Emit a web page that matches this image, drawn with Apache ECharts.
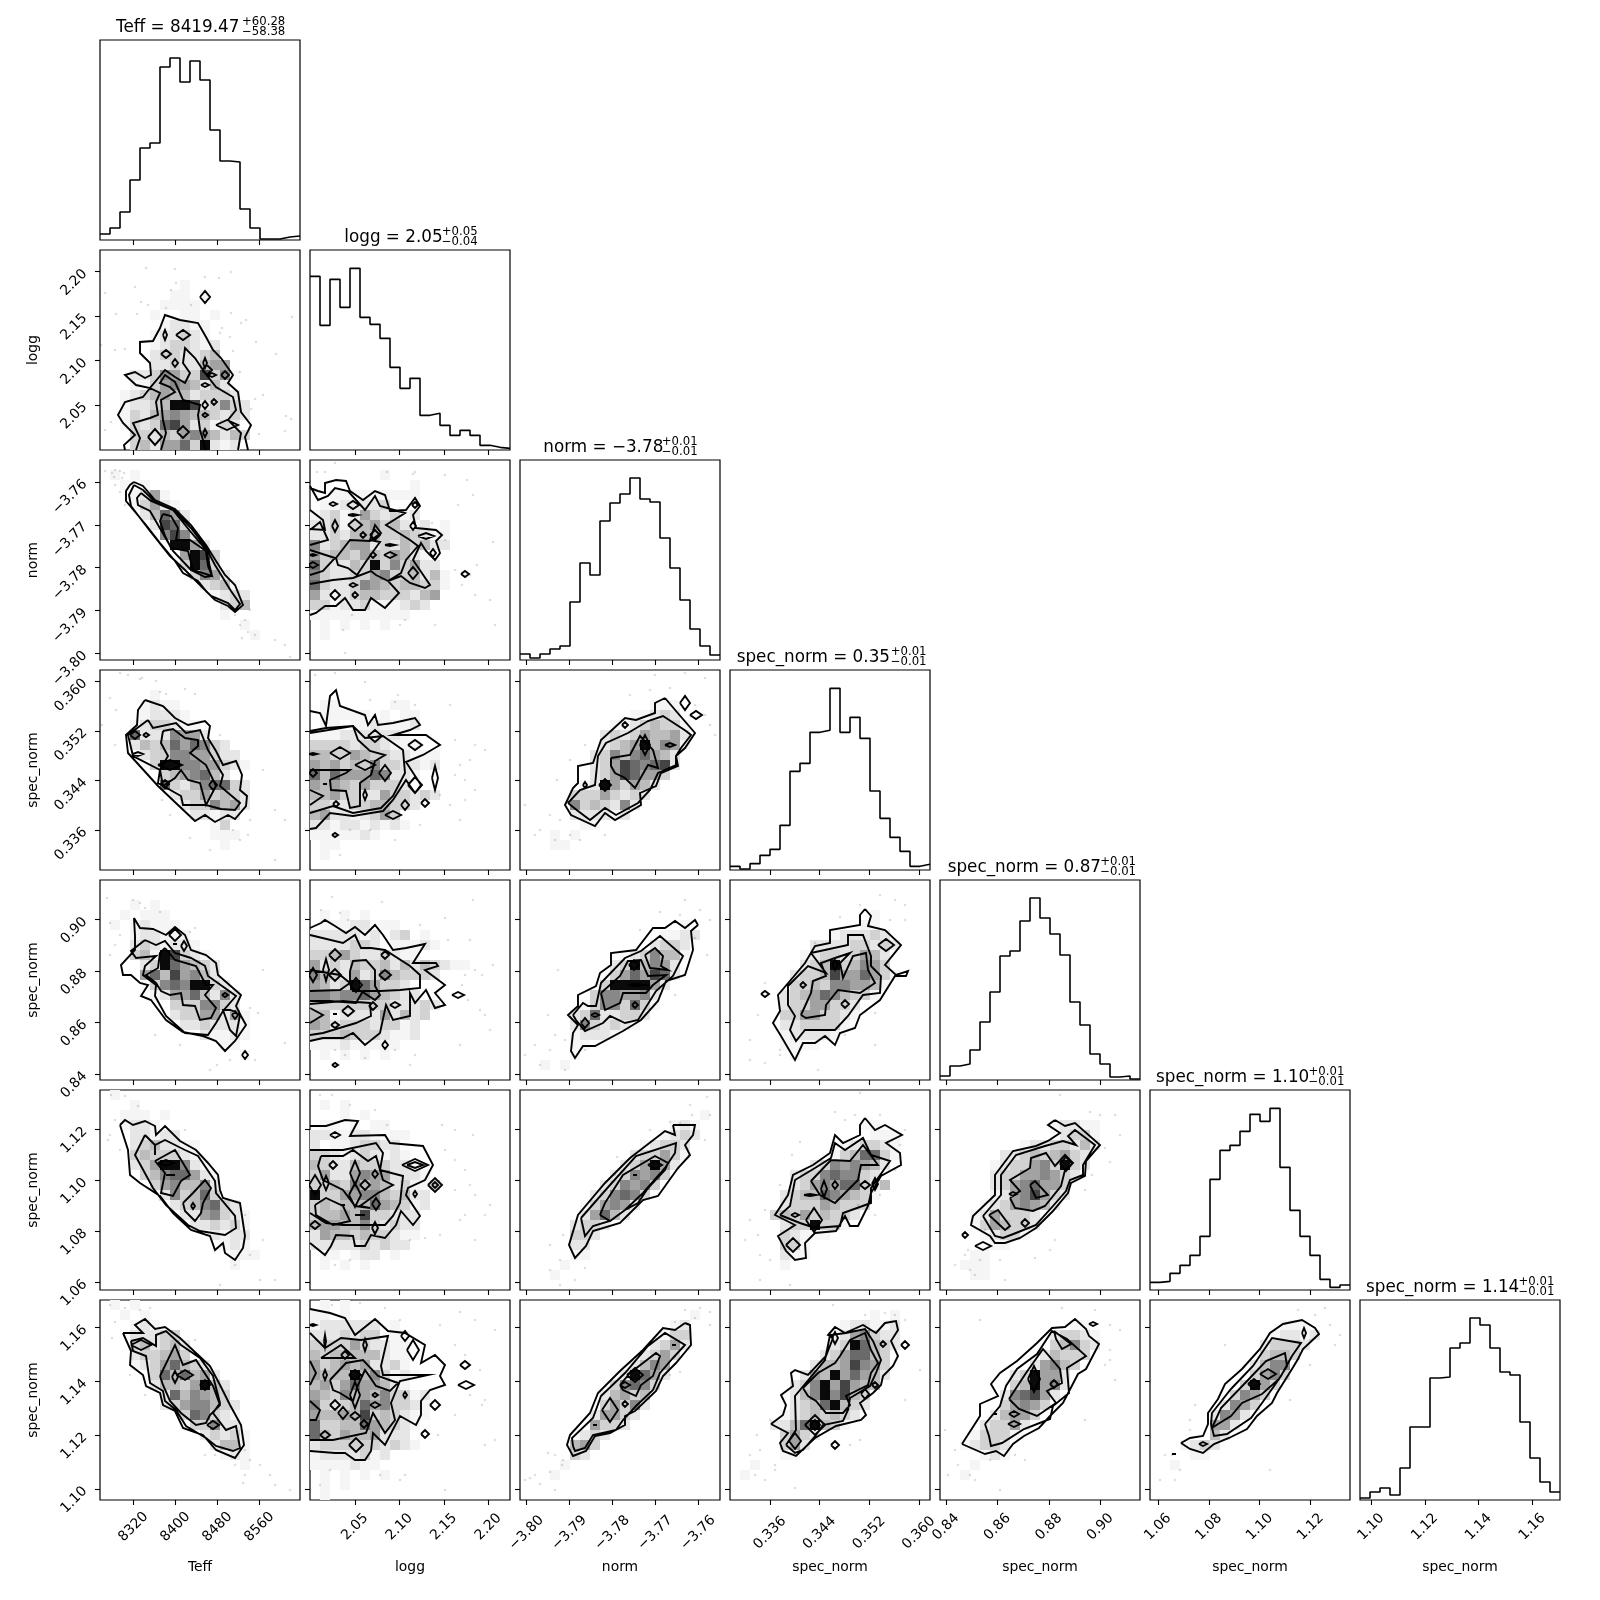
<!DOCTYPE html>
<html><head><meta charset="utf-8"><style>html,body{margin:0;background:#fff}#c{width:1600px;height:1600px}</style>
<script src="https://cdn.jsdelivr.net/npm/echarts@6/dist/echarts.min.js"></script></head><body><div id="c"></div>
<script>
// ---- axes ----
const axisNames=['Teff','logg','norm','spec_norm','spec_norm','spec_norm','spec_norm'];
const axisLow=[8256.4,1.9994,-3.8015,0.32955,0.83767,1.0569,1.0959];
const axisHigh=[8637.4,2.2244,-3.7549,0.36181,0.91542,1.1355,1.1703];
const ticks0=[8320,8400,8480,8560],ticks1=[2.05,2.10,2.15,2.20],ticks2=[-3.80,-3.79,-3.78,-3.77,-3.76],ticks3=[0.336,0.344,0.352,0.360],ticks4=[0.84,0.86,0.88,0.90],ticks5=[1.06,1.08,1.10,1.12],ticks6=[1.10,1.12,1.14,1.16];
const tickDecimals=[0,2,2,3,2,2,2];
// ---- titles ----
const titleMain=['Teff = 8419.47','logg = 2.05','norm = \u22123.78','spec_norm = 0.35','spec_norm = 0.87','spec_norm = 1.10','spec_norm = 1.14'];
const titleUp=['+60.28','+0.05','+0.01','+0.01','+0.01','+0.01','+0.01'];
const titleDown=['\u221258.38','\u22120.04','\u22120.01','\u22120.01','\u22120.01','\u22120.01','\u22120.01'];
// ---- 1D histograms (20 bins) ----
const hist0=[18,36,84,180,276,291,519,546,474,537,480,330,237,234,93,36,3,3,9,12];
const hist1=[521,374,512,428,545,398,377,335,248,185,215,104,110,74,44,59,44,14,8,5];
const hist2=[18,6,18,33,42,174,291,255,417,471,498,546,483,474,366,276,180,93,42,15];
const hist3=[11,3,19,44,62,134,296,320,413,419,545,413,458,395,237,155,98,56,11,17];
const hist4=[12,42,48,90,174,264,372,387,477,546,486,438,375,234,165,78,48,9,12,3];
const hist5=[23,26,50,74,104,161,332,419,434,476,527,506,545,368,239,161,104,32,8,15];
const hist6=[6,24,36,15,96,219,219,366,369,456,471,546,525,456,384,375,234,126,54,24];
// ---- 2D panels: heat_ROW_COL = shade per bin (rows from top), line_ = contour vertices in tenths of a bin,
// spot_ = small closed contours [u,v,du,dv], dots_ = faint samples in tenths of a bin ----
const heat_1_0=['','','','........1','.......11.1','......1111','.....1..11.1','......12211','.....122321','.....1233212','.....2332234','.....22322455','...22365338361','...1135654242','..123454423332','..1223499823632','..1324565443232','..132378523132','...332435654243','...34255739212'];
const line_1_0=[[25,200,24,195,35,185,23,173,18,165,25,152,43,147,50,138,36,135,25,125,35,122,45,128,51,125,50,113,40,103,40,92,53,91,60,78,65,65,80,70,98,73,106,87,113,100,121,108,133,125,128,133,138,142,141,162,151,175,145,187,148,200],
[36,200,40,188,33,173,50,168,58,165,56,152,60,143,50,138,65,120,75,127,85,133,90,123,83,113,85,98,95,108,105,123,116,137,133,147,136,160,128,170,141,183,138,200],
[61,200,66,183,63,170,61,150,75,142,70,137,60,133,65,125,75,132,83,150,100,155,98,165,100,180,106,200]];
const spot_1_0=[105,47,5,6,65,85,2,5,83,85,7,5,66,104,5,4,75,113,3,4,105,113,2,5,107,120,5,5,112,125,4,2,125,125,4,4,105,135,4,2,114,152,3,3,105,155,3,4,105,165,3,2,105,183,2,4,55,187,7,8,83,182,6,6,127,175,11,5];
const dots_1_0=[46,18,75,19,131,22,105,27,119,28,76,33,71,40,35,37,5,43,41,52,48,55,91,55,66,58,16,64,37,64,131,63,192,67,146,70,141,73,122,78,120,83,130,87,156,92,1,95,25,99,15,100,133,101,176,104,140,122,163,145,155,149,151,159,186,166,191,169,11,172,5,180,185,181,159,184];

const heat_2_0=['','.1.1','..1.1','...1251','...13521','....24752','.....2873','......6862','.......9952','........5983','........3973','.........3652','..........2341','...........1232','............234','............1','..............1','...............1'];
const line_2_0=[[34,22,43,26,55,40,75,49,91,65,106,85,116,101,125,115,135,125,143,145,135,152,128,146,115,140,106,131,98,121,83,113,75,101,60,83,46,65,26,41,26,31,30,25],
[34,25,43,30,55,42,75,51,91,68,106,88,115,105,123,118,131,131,140,144,135,150,128,143,111,136,100,125,85,110,70,96,50,71,31,46,29,35],
[41,33,51,41,73,50,90,71,106,90,112,116,105,117,91,110,73,91,50,51,38,45,37,38],
[63,54,71,56,78,68,76,80,90,80,106,91,108,106,112,116,93,110,88,91,71,88,65,76,60,61]];
const spot_2_0=[];
const dots_2_0=[5,11,12,13,15,10,20,11,24,13,14,17,22,18,15,25,20,32,25,45,135,155,145,160,150,150,140,165,148,172,155,175,142,178,175,180,185,185,190,197];

const heat_2_1=['','.......1','..........1','..111111111','.1122223','12312532312','223134534212.1','22324443343211','62345523243422','534435435421','7322439363522','63223356334241','73223654344331','5212344333245','331223111232','1111111111','.1.1.1.1','.1'];
const line_2_1=[[0,28,8,31,15,33,15,23,26,20,36,21,40,31,53,40,65,31,75,35,80,51,96,50,105,38,110,46,103,55,106,68,126,70,132,75,126,81,130,93,125,100,116,91,111,83,103,100,120,125,115,128,100,123,91,116,78,121,89,133,75,148,61,138,55,150,43,150,35,138,26,146,15,146,6,153,0,155],
[0,124,23,120,43,118,61,111,66,115,78,121,91,113,96,100,108,86,100,80,76,65,95,53,70,46,65,36,55,50,46,40,38,31,25,28,18,36,8,40,0,26],
[0,50,13,60,15,70,0,69],[0,115,13,111,25,98,0,90],[26,98,40,80,60,81,71,73,65,65,60,80,70,82,57,100,47,115,38,108,28,105],[0,70,10,62,18,80,0,85]];
const spot_2_1=[23,44,4,2,43,45,6,4,43,55,5,1,45,65,7,6,25,66,3,6,53,75,3,3,65,75,5,5,80,85,5,1,63,95,3,3,80,95,6,3,105,45,3,3,103,66,3,4,116,76,8,3,123,93,3,4,103,113,5,6,43,125,4,2,25,135,5,5,45,135,3,3,155,114,4,3,3,95,3,1,3,105,5,3];
const dots_2_1=[25,3,7,12,15,12,77,12,105,12,103,14,135,15,157,20,163,35,148,45,122,63,135,80,183,82,167,105,145,110,160,115,152,125,165,135,180,140,185,165,90,165,125,165,95,160,42,155,33,170,35,193];

const heat_3_0=['','','.....1','....1211','....12221','...1233211','...72226552','...2434757632','....2336655322','.....3996655321','......3456742','......732467732','.......23353432','........2336452','.........22122','...........13','...........111','............1'];
const line_3_0=[[45,30,63,36,75,48,88,55,105,51,110,56,108,68,116,81,123,95,136,91,142,105,140,120,147,126,146,136,135,149,128,145,115,152,105,145,95,151,78,135,58,116,28,83,26,65,37,55,38,40],
[48,50,53,58,76,53,86,63,100,60,108,80,123,105,120,116,140,133,135,140,121,139,106,135,83,135,81,126,58,113,60,100,33,86,28,65],
[63,61,73,59,85,68,98,70,98,76,90,83,106,95,116,116,106,135,100,113,88,110,81,100,75,108,63,116,60,100,68,86,61,73]];
const spot_3_0=[35,65,5,4,46,65,3,2,65,114,4,4,113,115,4,5,70,95,12,5,38,84,5,2];
const dots_3_0=[20,3,28,5,42,8,56,11,60,22,66,24,85,19,95,24,10,28,16,40,2,55,15,75,40,9,120,65,163,100,175,140,150,150,133,160,140,170,148,165,110,180,90,168,70,145,62,130,175,190,185,150];

const heat_3_1=['','','','.11.....11','.11111.1.11','.11.1121112','1112222221','33332332111','4433543322111','5453436332212','74755576221','5454353332','4453322533232','33223344332','452212353','2212212121','1111121','.11','.1'];
const line_3_1=[[0,41,10,43,16,56,20,26,26,20,30,36,55,45,58,55,65,45,68,55,83,53,105,48,110,55,100,60,83,65,116,65,130,75,113,85,96,92,111,115,105,123,96,110,83,130,73,141,43,146,20,143,6,158,0,159],
[0,61,16,58,43,56,55,68,73,66,93,80,95,103,83,126,71,138,43,143,23,136,0,143],
[0,63,43,56,48,70,60,81,75,85,65,91,61,105,50,113,50,136,40,138,36,121,21,120,20,110,36,103,40,100,0,100],
[0,120,13,126,0,135]];
const spot_3_1=[30,83,10,6,55,95,10,5,3,84,4,1,3,103,4,4,65,66,7,6,75,103,6,8,105,75,7,5,105,115,7,8,55,125,2,5,26,134,3,3,15,114,2,2,125,108,3,12,115,133,4,4,95,135,4,5,83,145,8,4,25,165,3,2];
const dots_3_1=[5,5,25,3,55,12,88,25,60,30,85,32,105,35,140,35,145,70,165,75,160,90,150,95,175,80,145,105,155,110,165,120,155,130,140,135,130,125,150,150,110,155,85,170,60,160,40,160,30,185,15,140];

const heat_4_0=['','','...1.1','..1.111','.1.12111','...122111','...2321221','...34198321','....23975432','....57485642','.....36769932','.....125574262','.......3336632','.......23355251','........2232221','..........21121','............11','..............1'];
const line_4_0=[[34,38,40,48,53,49,66,55,75,47,85,55,91,70,106,75,116,83,118,95,141,115,136,126,141,136,146,145,135,161,125,171,116,161,103,156,83,152,66,140,51,120,41,116,48,105,40,103,31,95,23,95,21,85,35,70,35,56],
[45,60,56,65,65,61,75,73,91,78,105,86,108,96,136,116,123,131,116,143,108,155,85,153,66,136,55,116,56,105,43,95,45,86,56,76,36,78,31,71],
[65,68,75,80,96,86,106,105,113,105,105,115,116,128,111,138,100,140,95,126,83,125,81,113,70,115,61,111,56,103,46,95,58,88,60,73],
[131,130,140,135,136,156,130,150,123,130]];
const spot_4_0=[75,55,6,6,75,64,2,2,84,66,3,5,125,115,3,2,135,135,3,4,145,175,3,4];
const dots_4_0=[7,18,33,20,40,23,45,28,60,32,10,43,15,65,20,55,10,75,95,48,90,52,163,90,150,128,158,133,155,180,130,180,117,185,110,190,60,125,55,155,80,165,185,163];

const heat_4_1=['','','','.1.1.1','.11122.11','2222212.23.1','2222332.11121','33453223211','5232433424243211','6432523643332','5423975332','66566754322','3333333322232','441222252423','54233323312','33343332112','111211111','.1.1.1.1'];
const line_4_1=[[0,48,11,43,15,40,25,46,36,53,45,47,55,55,65,45,73,55,83,70,96,68,115,64,103,83,126,83,128,86,115,90,135,105,125,113,135,125,125,128,116,110,105,123,100,113,100,136,83,140,76,125,70,153,55,165,43,153,33,158,13,158,0,161],
[0,55,33,63,45,55,51,68,61,68,75,70,100,86,110,95,110,108,90,110,70,111,53,111,46,123,20,121,0,121],
[0,155,13,153,46,143,61,136,60,123,33,121,0,124],
[40,91,43,81,56,80,65,90,65,106,70,115,65,120,51,111,43,111,40,103],
[0,111,30,110,40,103,30,95,0,90],[0,128,13,135,0,143]];
const spot_4_1=[25,75,6,6,25,95,6,6,16,90,3,11,75,75,4,4,75,95,6,5,85,125,5,3,25,134,2,2,25,145,4,3,75,165,3,4,25,185,3,2,148,115,6,3,38,131,6,5,63,126,4,4,46,105,6,7,3,95,4,7];
const dots_4_1=[22,17,11,30,30,33,38,40,72,22,163,20,110,45,135,38,138,60,160,60,165,90,155,95,152,105,158,120,170,130,183,85,172,95,175,135,180,150,150,165,105,175,85,170,55,178,35,175,100,185,25,170];

const heat_5_0=['.1','...1','..111.1','..1221','...22122','...2342211','...3433321','...23599621','....34677521','.....3564462','......263473','.......2346732','........2256321','.........223231','...........2122','............121','.............111','.............1'];
const line_5_0=[[20,35,25,30,33,35,45,31,55,36,56,45,65,36,80,51,96,60,108,73,118,85,120,100,123,108,140,113,145,146,143,158,135,170,125,163,123,153,115,160,110,146,91,140,73,123,60,106,40,93,30,85,28,60],
[45,45,55,55,65,50,85,60,98,66,115,91,116,103,135,126,136,138,125,145,100,141,88,135,66,115,53,98,35,65],
[55,71,75,60,83,73,90,85,81,91,73,106,61,103,65,83],
[83,113,93,103,105,90,111,98,103,113,101,123,95,131,85,121],
[55,55,55,65],[66,85,75,85]];
const spot_5_0=[93,116,2,3,66,73,8,3];
const dots_5_0=[11,5,25,6,38,16,15,30,10,45,8,50,85,40,20,60,60,110,145,125,163,150,150,165,135,175,120,195,160,190,175,190];

const heat_5_1=['','.1.1','...1.1','.11.1.11','2211221.11','2.1123322','3321232121','4322433322','352256552221','3343645423113','933556643422','343444754312','34454833222','45544632322','25443433211','2222232322','.11.122.1','.1.1.1'];
const line_5_1=[[0,36,16,36,35,30,48,31,40,46,75,45,80,53,113,56,123,75,115,90,98,98,96,105,110,126,103,135,91,121,86,135,75,148,61,145,55,156,45,156,43,146,26,145,21,156,15,165,0,153],
[0,60,33,60,66,53,73,63,70,80,93,86,90,113,83,126,75,135,33,135,16,133,0,123],
[11,66,33,66,43,60,58,71,66,66,73,90,83,95,68,103,50,116,60,118,45,116,33,100,13,90,8,76],
[5,115,16,108,33,116,40,131,23,135,6,125],[45,125,55,125]];
const spot_5_1=[105,75,13,6,105,75,8,3,125,95,7,7,125,95,3,3,5,95,6,10,16,93,3,7,45,83,5,12,45,105,6,12,55,95,5,5,66,114,4,6,23,75,4,4,65,84,3,4,105,104,2,3,25,45,5,3,33,115,2,2,54,135,2,2,65,138,3,6,5,135,5,4];
const dots_5_1=[10,5,22,5,40,15,65,20,77,35,132,35,145,40,163,45,135,60,145,70,155,80,160,95,145,100,165,105,155,125,175,125,150,130,100,150,115,148,165,150,180,115,130,145,25,175,40,170];

const heat_6_0=['.1.1','..1.1','...121','...22233','...342342','...233453','...12357432','.....3747452','.....24435942','......2746543','......23566432','........376321','.........33622','..........23231','...........2441','............121','..............1'];
const line_6_0=[[23,33,43,33,35,25,45,19,55,29,65,27,80,38,96,53,110,66,120,85,130,105,141,125,144,145,135,158,116,150,103,135,83,128,75,111,63,105,60,93,46,86,43,75,30,65,31,51],
[31,41,43,38,56,46,56,35,66,31,81,45,100,58,113,76,120,103,113,113,126,130,136,126,140,148,133,151,116,146,106,138,86,126,76,110,65,101,63,91,50,83,46,56,33,51],
[60,76,75,45,83,65,96,60,113,86,120,105,110,115,106,123,96,125,81,113,70,101,63,85]];
const spot_6_0=[41,45,10,5,75,77,3,6,85,75,8,5,105,85,5,5,113,125,6,4];
const dots_6_0=[10,5,25,8,40,10,15,22,12,38,50,8,95,40,30,75,45,95,105,155,115,155,135,165,145,150,150,160,160,165,145,175,143,183,170,175,175,185,190,190];

const heat_6_1=['.1.1','11.1','1222222.1','2223233.11','3333532211','4344444211','5345452231','54449463121','4535755421','543645463312','632347563321','544548343211','73344754321','7435445222','23333332321','12222312','1111211','.1.1.1.1','.1.1','.1'];
const line_6_1=[[0,9,20,13,35,18,45,35,65,19,78,31,95,33,115,45,111,63,125,55,135,65,130,76,135,85,120,90,111,101,111,115,106,125,90,116,75,145,63,133,61,151,55,160,45,160,35,153,25,153,0,151],
[0,33,15,48,31,38,51,40,78,36,71,66,73,75,118,75,90,81,81,103,85,120,75,133,63,113,56,133,23,140,0,140],
[0,61,6,73,0,85],[0,101,10,110,6,120,0,120],
[20,80,36,63,53,60,68,76,88,83,80,91,66,86,55,70,48,85,43,101,30,93,23,90],
[11,58,31,45,45,58,25,58]];
const spot_6_1=[25,105,5,5,35,55,4,4,33,113,5,6,45,116,5,4,55,45,2,6,65,95,3,2,65,105,5,3,54,124,4,4,95,95,2,3,95,36,4,5,103,50,6,10,125,105,5,5,155,65,5,4,156,85,8,4,115,134,4,4,15,135,5,4,46,145,7,7,15,41,1,6,45,75,6,5,45,95,5,13,15,75,2,5,3,25,3,1];
const dots_6_1=[22,5,50,3,75,8,90,20,130,25,150,12,165,20,185,30,145,45,170,70,155,55,160,95,175,100,145,115,172,105,128,135,185,140,175,145,90,180,95,175,70,175,20,170,10,185,135,190];

const heat_3_2=['','','','.............111','...........11232','.........11234331','........232354452','........234594651','.......236467542','.......235876782','.......23587553','......12953542','.....33353232','.....6343262','.....222212','......11','...1.1','...11'];
const line_3_2=[[145,28,156,41,175,63,165,78,156,86,158,96,141,103,136,116,120,123,121,135,95,150,85,143,75,156,51,145,45,135,53,118,58,113,58,96,73,93,81,70,105,48,116,50,135,43,135,33],
[48,133,60,120,75,115,78,86,86,73,108,63,128,51,143,46,166,61,171,65,161,78,156,86,156,95,138,103,130,120,118,133,96,145,85,138,70,150,58,141],
[91,88,110,85,120,66,133,80,138,98,128,95,115,118,105,108,95,103,91,96]];
const spot_3_2=[165,33,5,7,176,45,6,4,105,55,3,3,65,115,2,3,85,115,6,6,125,75,5,10,150,75,5,2];
const dots_3_2=[135,5,165,3,185,8,150,18,130,20,110,25,175,35,185,45,195,65,65,75,50,90,37,110,40,150,20,160,35,170,15,165,30,145,50,165,60,170,85,165,5,135,190,55];

const heat_4_2=['','','','','................1','..............1122','.............2332','...........236441','.........2394652','.........3575872','........3999952','.......3665562','......13663731','.....23722332','.....2632321','.....12221','.....11','.....1','..1.1'];
const line_4_2=[[178,45,171,51,173,70,165,95,146,101,138,121,121,140,103,151,75,166,63,166,55,178,51,171,53,153,58,145,48,135,58,126,58,115,76,106,80,93,91,85,91,73,116,70,133,48,145,48,155,41,165,48,175,40],
[53,135,63,123,68,126,76,126,81,103,105,78,121,71,140,56,163,76,153,96,136,111,118,140,105,143,90,136,83,143,65,151,56,140],
[81,113,100,96,108,81,121,80,128,96,146,95,133,105,126,113,103,113,100,123,85,130],
[125,75,135,68,143,76,141,86,148,90,130,88]];
const spot_4_2=[65,143,4,5,75,135,4,2,115,125,3,3,116,105,8,1,114,85,5,5];
const dots_4_2=[165,20,180,30,190,40,140,32,160,35,175,58,187,75,120,50,38,90,28,135,155,115,140,115,35,155,45,160,30,170,20,185,45,190,15,165,5,175,65,170];

const heat_4_3=['','','','..............1','.............11','..........122232','........222233232','.......123323542','.......234934653','......23348557531','......3343665541','.....2345764331','.....23355332','.....33553321','.....2233331','.....122221','.....1111','......1'];
const line_4_3=[[135,29,141,36,138,46,155,50,171,65,155,85,166,95,178,91,176,96,165,96,150,120,130,135,125,148,110,153,105,165,95,156,85,163,73,163,65,180,51,156,43,143,50,131,48,115,65,95,75,83,85,66,100,63,100,50,130,45,130,35],
[81,73,118,65,118,55,133,55,138,68,141,76,141,86,151,96,150,113,133,115,118,136,105,150,90,150,75,150,66,161,60,150,65,136,58,125,58,106,78,86,96,93],
[71,135,81,113,83,101,96,96,91,83,105,78,120,73,110,83,113,98,123,76,136,73,138,90,145,103,130,113,108,110,96,125,95,135,76,138]];
const spot_4_3=[156,65,8,6,35,114,4,3,73,105,3,3,115,124,4,4,105,85,3,5];
const dots_4_3=[150,15,165,20,175,25,130,25,160,40,175,40,110,37,85,63,135,132,145,133,35,103,28,135,20,160,50,175,35,183,20,180,145,165,115,155,88,190,50,170];

const heat_5_2=['','','..................1','...............121','..............1232','............12332','...........233531','..........235952','.........236563','........236563','.......236763','......135652','......25742','.....2332','.....332','.....22','.....11','....1','...1'];
const line_5_2=[[153,35,175,35,173,45,165,55,170,65,158,78,138,106,123,110,108,125,100,133,73,141,66,156,55,168,49,155,58,125,85,93,110,68,145,41,155,45],
[61,128,90,95,116,66,156,53,155,63,145,78,123,103,105,120,90,131,73,136,65,146],
[80,125,85,113,103,85,135,66,148,73,145,80,128,98,118,113,105,120,90,131]];
const spot_5_2=[135,75,7,4,115,85,2,2];
const dots_5_2=[187,7,170,15,172,25,190,25,150,32,160,33,185,50,130,40,97,67,95,85,43,145,40,170,30,155,30,180,55,190,40,195,65,178];

const heat_5_3=['','','','.............11','..............111','...........123321','..........1347731','........23656542','......233676632','......2356577324','.....2344765431','.....233354333','....343534332','.....2339331','.....32111','.....331','.....211','.....1'];
const line_5_3=[[135,28,145,40,155,35,172,45,156,53,170,63,171,75,151,86,141,103,138,116,128,136,120,136,115,126,106,141,85,143,75,153,76,168,65,170,56,161,48,146,65,135,45,125,58,105,63,85,83,75,100,63,105,45,113,53,130,45,130,35],
[50,125,60,116,65,90,85,78,101,68,105,53,115,60,133,48,141,65,160,71,141,98,141,113,113,123,110,136,85,138,70,133],
[81,91,101,70,120,71,133,55,148,75,131,75,128,90,113,105,105,113,90,105]];
const spot_5_3=[105,95,3,4,135,95,5,4,145,94,3,6,94,99,3,8,80,105,6,1,65,125,4,2,84,130,8,12,63,155,7,7];
const dots_5_3=[130,3,105,22,115,30,125,25,150,25,175,40,170,55,165,80,150,105,140,105,70,52,62,65,50,95,35,120,20,130,28,145,15,150,145,125,128,115,30,165,40,170,30,190,60,195];

const heat_6_2=['','.................1','...............12','..............133','.............2352','............2353','...........2465','..........29752','.........36763','........24534','........35362','.......25532','.......5332','......232','.....453','.....32','....1','...1'];
const line_6_2=[[165,23,170,25,171,45,156,63,143,76,136,91,115,111,105,116,105,125,90,133,75,136,66,151,53,156,47,145,50,135,70,113,78,93,100,71,123,50,143,28,155,30],
[53,146,52,138,73,118,81,96,105,73,128,46,145,33,165,45,153,58,140,73,133,90,116,106,103,120,96,130,73,135,65,148,55,151],
[100,85,110,73,123,63,136,53,140,56,133,76,121,85,116,96,103,90]];
const spot_6_2=[115,75,8,7,105,85,5,3,90,110,8,12,105,104,3,3,75,125,2,2,154,45,2,2];
const dots_6_2=[165,10,180,8,190,12,175,18,190,25,155,22,140,32,150,75,160,72,145,75,35,155,28,153,43,160,15,175,10,178,42,165,30,172,20,184,5,180,35,190];

const heat_6_3=['','..............1.1','...........122112','..........1256322','..........2397432','.........2357743','........24458653','.......254957542','......236958544','......24696843','......23479432','.....12343432','....22479431','.....3532','.....352','.....11','..1','.1'];
const line_6_3=[[41,124,53,115,56,105,51,95,63,86,61,73,65,70,78,75,96,56,103,38,98,35,105,27,115,33,133,25,146,33,155,23,166,21,168,30,161,41,168,56,163,66,153,76,151,85,143,93,130,103,136,115,131,120,106,126,85,138,66,156,53,151,50,143,58,133],
[56,145,66,130,65,96,95,60,100,35,116,33,135,29,143,41,151,60,146,73,140,86,120,98,118,110,113,121,93,125,86,135,73,150,65,153],
[73,88,88,73,105,63,110,56,120,40,135,33,141,50,148,63,141,73,138,85,116,96,120,105,113,113,96,113,86,101,78,96]];
const spot_6_3=[85,125,10,10,85,125,5,5,65,141,6,8,105,145,4,4,135,94,4,5,145,85,3,3,153,44,3,3,175,45,4,4,105,38,3,6];
const dots_6_3=[103,5,135,15,155,13,165,15,175,20,135,25,40,120,27,135,20,155,30,150,25,175,35,180,45,170,65,188,45,165,120,145,130,140,190,70,175,100];

const heat_5_4=['','','','...........12211','............2331','........12233242','......223434532','.....1233563932','.....233556532','.....23567553','.....12568532','....12356542','...1253332','...1354332','....12331','.....11','...11','..111','...11'];
const line_5_4=[[115,30,125,36,135,33,160,55,146,71,145,86,131,93,128,103,113,121,96,138,80,148,65,153,55,153,50,146,31,135,33,126,55,105,55,85,73,61,96,56,108,51,120,43,108,35],
[43,126,61,105,61,85,76,65,105,56,123,51,136,55,128,46,135,40,155,55,143,75,143,85,130,90,126,101,113,116,96,135,76,143,63,148,55,146],
[70,108,80,101,70,90,90,78,91,68,106,63,115,76,125,65,133,73,125,80,121,96,105,116,93,121,75,118],
[90,95,95,91,108,105,96,108],[49,125,58,120,70,136,65,140]];
const spot_5_4=[73,104,4,2,85,133,4,4,25,145,3,3,43,156,8,4,126,74,6,7];
const dots_5_4=[120,5,150,22,160,25,175,25,180,45,165,58,170,72,152,85,145,100,115,150,110,160,95,168,45,140,28,160,25,165,15,175,30,180,40,170,35,185,60,170,65,190];

const heat_6_4=['','','.............11','...........23321','...........34632','..........24333','.........25643','.......239552','.......349562','......267852','......35653','.....24553','....23352','...13331','..12332','....121','...1','..1'];
const line_6_4=[[22,144,45,154,56,151,64,156,73,144,84,136,99,128,110,116,123,103,138,74,146,69,159,44,149,36,146,29,135,19,125,27,112,28,97,43,77,61,60,73,51,84,58,96,40,104,40,116],
[45,124,60,106,66,86,77,69,97,54,112,31,127,39,146,56,127,68,129,93,113,106,110,119,84,129,62,143,51,146,49,136],
[69,99,86,73,103,49,120,69,122,83,107,91,116,103,97,116,79,109],
[114,31,131,44,122,49,116,39]];
const spot_6_4=[94,79,6,13,114,84,4,4,74,114,5,3,74,124,6,3,55,114,2,2,153,24,4,2];
const dots_6_4=[122,8,155,10,170,25,180,30,170,60,170,50,165,65,175,80,5,130,15,150,18,165,8,175,30,175,35,180,50,160,60,190,85,160,40,20,75,155,145,120];

const heat_6_5=['','','.............111','............12212','...........23332','...........3443','..........2466','..........3563','.........3953','........3653','.......2653','......2652','......552','......42','...1232','....11','..1'];
const line_6_5=[[31,143,40,138,53,136,58,124,58,113,68,99,75,84,92,69,110,49,120,33,133,24,152,20,165,28,169,34,153,49,148,59,142,69,127,93,122,103,107,116,97,129,79,138,64,144,53,153,40,149],
[61,124,62,113,73,99,81,89,103,66,122,38,151,43,142,56,131,76,122,89,112,103,101,118,77,134,64,136],
[62,128,71,108,99,79,116,61,135,53,137,66,129,79,112,94,92,103,81,116,68,124]];
const spot_6_5=[118,74,8,5,104,84,6,5,53,144,4,2,24,154,2,2,154,33,2,5];
const dots_6_5=[148,10,165,15,175,8,180,25,185,45,190,35,160,65,45,105,40,130,15,155,22,155,10,180,25,180,30,170,40,120,140,100,120,170,75,45,160,40];

// ---- lookups built from the arrays above ----
const histTable=[hist0,hist1,hist2,hist3,hist4,hist5,hist6];
const tickTable=[ticks0,ticks1,ticks2,ticks3,ticks4,ticks5,ticks6];
const heatTable={'1_0':heat_1_0,'2_0':heat_2_0,'2_1':heat_2_1,'3_0':heat_3_0,'3_1':heat_3_1,'3_2':heat_3_2,'4_0':heat_4_0,'4_1':heat_4_1,'4_2':heat_4_2,'4_3':heat_4_3,'5_0':heat_5_0,'5_1':heat_5_1,'5_2':heat_5_2,'5_3':heat_5_3,'5_4':heat_5_4,'6_0':heat_6_0,'6_1':heat_6_1,'6_2':heat_6_2,'6_3':heat_6_3,'6_4':heat_6_4,'6_5':heat_6_5};
const lineTable={'1_0':line_1_0,'2_0':line_2_0,'2_1':line_2_1,'3_0':line_3_0,'3_1':line_3_1,'3_2':line_3_2,'4_0':line_4_0,'4_1':line_4_1,'4_2':line_4_2,'4_3':line_4_3,'5_0':line_5_0,'5_1':line_5_1,'5_2':line_5_2,'5_3':line_5_3,'5_4':line_5_4,'6_0':line_6_0,'6_1':line_6_1,'6_2':line_6_2,'6_3':line_6_3,'6_4':line_6_4,'6_5':line_6_5};
const spotTable={'1_0':spot_1_0,'2_0':spot_2_0,'2_1':spot_2_1,'3_0':spot_3_0,'3_1':spot_3_1,'3_2':spot_3_2,'4_0':spot_4_0,'4_1':spot_4_1,'4_2':spot_4_2,'4_3':spot_4_3,'5_0':spot_5_0,'5_1':spot_5_1,'5_2':spot_5_2,'5_3':spot_5_3,'5_4':spot_5_4,'6_0':spot_6_0,'6_1':spot_6_1,'6_2':spot_6_2,'6_3':spot_6_3,'6_4':spot_6_4,'6_5':spot_6_5};
const dotsTable={'1_0':dots_1_0,'2_0':dots_2_0,'2_1':dots_2_1,'3_0':dots_3_0,'3_1':dots_3_1,'3_2':dots_3_2,'4_0':dots_4_0,'4_1':dots_4_1,'4_2':dots_4_2,'4_3':dots_4_3,'5_0':dots_5_0,'5_1':dots_5_1,'5_2':dots_5_2,'5_3':dots_5_3,'5_4':dots_5_4,'6_0':dots_6_0,'6_1':dots_6_1,'6_2':dots_6_2,'6_3':dots_6_3,'6_4':dots_6_4,'6_5':dots_6_5};
const shades=['#ffffff','#f5f5f5','#e6e6e6','#d2d2d2','#bcbcbc','#a2a2a2','#888888','#6a6a6a','#444444','#0a0a0a'];

// ---- layout ----
const PANEL=200,STEP=210,LEFT=100,TOP=40;
const labelColMargin=[27,27,33,33,27,27,27];
const FONT='DejaVu Sans';
const fmt=(v,d)=>v.toFixed(d).replace('-','\u2212');
const binX=(c,u)=>axisLow[c]+(axisHigh[c]-axisLow[c])*u/20;
const binY=(r,v)=>axisHigh[r]-(axisHigh[r]-axisLow[r])*v/20;

const grid=[],xAxis=[],yAxis=[],series=[],title=[];
let gi=0;
for(let i=0;i<7;i++)for(let j=0;j<=i;j++){
  const left=LEFT+STEP*j,top=TOP+STEP*i,isHist=i===j;
  grid.push({left,top,width:PANEL,height:PANEL,show:true,borderColor:'#000',borderWidth:1.2,backgroundColor:'#fff',containLabel:false});
  xAxis.push({type:'value',gridIndex:gi,min:axisLow[j],max:axisHigh[j],scale:true,position:'bottom',
    name:i===6?axisNames[j]:'',nameLocation:'middle',nameGap:60,nameTextStyle:{fontFamily:FONT,fontSize:13.9,color:'#000'},
    axisLine:{show:false,onZero:false},splitLine:{show:false},
    axisTick:{show:true,length:5,customValues:tickTable[j],lineStyle:{color:'#000',width:1.1}},
    axisLabel:{show:i===6,customValues:tickTable[j],rotate:45,align:'center',verticalAlign:'middle',margin:labelColMargin[j],hideOverlap:false,
      fontFamily:FONT,fontSize:13.9,color:'#000',formatter:v=>fmt(v,tickDecimals[j])}});
  if(isHist){
    yAxis.push({type:'value',gridIndex:gi,min:0,max:600,position:'left',axisLine:{show:false,onZero:false},axisTick:{show:false},axisLabel:{show:false},splitLine:{show:false}});
    const h=histTable[j],pts=h.map((v,k)=>[binX(j,k),v]);pts.push([binX(j,20),h[19]]);
    series.push({type:'line',xAxisIndex:gi,yAxisIndex:gi,data:pts,step:'end',symbol:'none',lineStyle:{color:'#000',width:1.6},silent:true});
    const tx=[116,344.3,543.3,736.7,947.7,1156,1366][j];
    const mainWidth=[125,96.5,117.5,153,151.5,151.5,151.5][j];
    title.push({text:titleMain[j],left:tx,top:top-21,padding:0,textStyle:{fontFamily:FONT,fontSize:16.8,fontWeight:'normal',color:'#000'}});
    title.push({text:titleUp[j],left:tx+mainWidth+1,top:top-24,padding:0,textStyle:{fontFamily:FONT,fontSize:11.7,fontWeight:'normal',color:'#000'}});
    title.push({text:titleDown[j],left:tx+mainWidth+1,top:top-14,padding:0,textStyle:{fontFamily:FONT,fontSize:11.7,fontWeight:'normal',color:'#000'}});
  }else{
    yAxis.push({type:'value',gridIndex:gi,min:axisLow[i],max:axisHigh[i],scale:true,position:'left',
      name:j===0?axisNames[i]:'',nameLocation:'middle',nameGap:60,nameRotate:90,nameTextStyle:{fontFamily:FONT,fontSize:13.9,color:'#000'},
      axisLine:{show:false,onZero:false},splitLine:{show:false},
      axisTick:{show:true,length:5,customValues:tickTable[i],lineStyle:{color:'#000',width:1.1}},
      axisLabel:{show:j===0,customValues:tickTable[i],rotate:45,align:'right',verticalAlign:'middle',margin:15,hideOverlap:false,
        fontFamily:FONT,fontSize:13.9,color:'#000',formatter:v=>fmt(v,tickDecimals[i])}});
    const key=i+'_'+j,cells=[];
    heatTable[key].forEach((row,r)=>{for(let c=0;c<row.length;c++){if(row[c]!=='.')cells.push([binX(j,c),binY(i,r),binX(j,c+1),binY(i,r+1),+row[c]]);}});
    series.push({type:'custom',xAxisIndex:gi,yAxisIndex:gi,data:cells,encode:{x:[0,2],y:[1,3]},silent:true,z:1,clip:true,
      renderItem:(p,api)=>{const a=api.coord([api.value(0),api.value(1)]),b=api.coord([api.value(2),api.value(3)]);
        const x=Math.round(a[0]),y=Math.round(a[1]);
        return {type:'rect',shape:{x,y,width:Math.round(b[0])-x,height:Math.round(b[1])-y},style:{fill:shades[api.value(4)]}};}});
    const d=dotsTable[key],dp=[];for(let k=0;k<d.length;k+=2)dp.push([binX(j,d[k]/10),binY(i,d[k+1]/10)]);
    series.push({type:'scatter',xAxisIndex:gi,yAxisIndex:gi,data:dp,symbolSize:2.6,itemStyle:{color:'#000',opacity:0.13},silent:true,z:2});
    const lp=[];
    lineTable[key].forEach(v=>{
      for(let k=0;k<v.length;k+=2)lp.push([binX(j,v[k]/10),binY(i,v[k+1]/10)]);
      const edge=(a,b)=>a===0||a===200||b===0||b===200;
      if(!edge(v[0],v[1])&&!edge(v[v.length-2],v[v.length-1]))lp.push([binX(j,v[0]/10),binY(i,v[1]/10)]);
      lp.push([null,null]);
    });
    const sp=spotTable[key];
    for(let k=0;k<sp.length;k+=4){const u=sp[k]/10,w=sp[k+1]/10,du=sp[k+2]/10,dv=sp[k+3]/10;
      [[u-du,w],[u,w-dv],[u+du,w],[u,w+dv],[u-du,w]].forEach(q=>lp.push([binX(j,q[0]),binY(i,q[1])]));
      lp.push([null,null]);}
    series.push({type:'line',xAxisIndex:gi,yAxisIndex:gi,data:lp,connectNulls:false,symbol:'none',lineStyle:{color:'#000',width:1.9,join:'miter'},silent:true,z:3});
  }
  gi++;
}
const chart=echarts.init(document.getElementById('c'),null,{width:1600,height:1600,devicePixelRatio:1});
chart.setOption({animation:false,backgroundColor:'#fff',title,grid,xAxis,yAxis,series});
</script></body></html>
